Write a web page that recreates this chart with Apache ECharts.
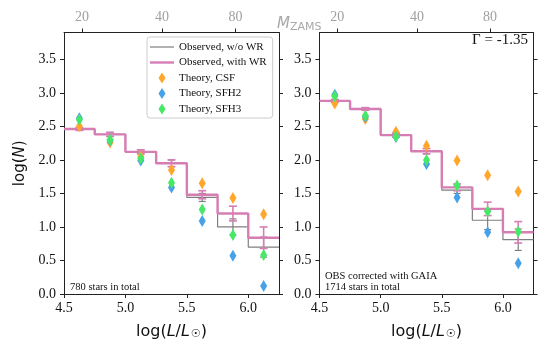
<!DOCTYPE html>
<html>
<head>
<meta charset="utf-8">
<script src="https://cdn.jsdelivr.net/npm/echarts@6/dist/echarts.min.js"></script>
<style>
  html, body { margin: 0; padding: 0; background: #fff; }
  #chart { width: 548px; height: 353px; }
</style>
</head>
<body>
<div id="chart"></div>
<script>
// bins in log(L/Lsun)
var edges = [4.5, 4.75, 5.0, 5.25, 5.5, 5.75, 6.0, 6.25];
var centers = [4.625, 4.875, 5.125, 5.375, 5.625, 5.875, 6.125];
var xTicks = [4.5, 5.0, 5.5, 6.0];
var yTicks = [0, 0.5, 1.0, 1.5, 2.0, 2.5, 3.0, 3.5];
// top axis: M_ZAMS labels and their log L position
var mLabels = ['20', '40', '80'];
var mPos = [4.646, 5.297, 5.895];

// left panel (780 stars)
var wrL = [2.46, 2.38, 2.12, 1.95, 1.48, 1.20, 0.84];
var wrErrL = [0.02, 0.03, 0.03, 0.05, 0.06, 0.11, 0.16];
var noWrL = [2.46, 2.38, 2.12, 1.95, 1.44, 1.00, 0.70];
var noWrErrL = [0.02, 0.03, 0.03, 0.05, 0.06, 0.12, 0.15];
var csfL = [2.50, 2.26, 2.05, 1.85, 1.65, 1.43, 1.19];
var sfh2L = [2.62, 2.29, 1.99, 1.59, 1.09, 0.57, 0.12];
var sfh3L = [2.60, 2.30, 2.02, 1.66, 1.26, 0.88, 0.58];

// right panel (GAIA corrected, 1714 stars)
var wrR = [2.88, 2.76, 2.37, 2.13, 1.59, 1.27, 0.92];
var wrErrR = [0.02, 0.02, 0.03, 0.04, 0.05, 0.10, 0.16];
var noWrR = [2.88, 2.76, 2.37, 2.13, 1.55, 1.10, 0.81];
var noWrErrR = [0.02, 0.02, 0.03, 0.04, 0.05, 0.14, 0.16];
var csfR = [2.84, 2.61, 2.42, 2.21, 1.99, 1.77, 1.53];
var sfh2R = [2.97, 2.64, 2.34, 1.94, 1.44, 0.92, 0.46];
var sfh3R = [2.95, 2.66, 2.35, 2.00, 1.62, 1.23, 0.93];

var PINK = '#d67db4', GRAY = '#7f7f7f';
var ORANGE = '#ffa62b', BLUE = '#45a2e8', GREEN = '#47e866';
var serif = 'Liberation Serif';
var sans = 'DejaVu Sans';

function stepData(vals) {
    return edges.map(function (e, i) {
        return [e, vals[Math.min(i, vals.length - 1)]];
    });
}
function pts(vals) {
    return centers.map(function (c, i) { return [c, vals[i]]; });
}
function errPts(vals, errs) {
    return centers.map(function (c, i) { return [c, vals[i], errs[i]]; });
}
function errRender(capW, color, lw) {
    return function (params, api) {
        var x = api.value(0), y = api.value(1), e = api.value(2);
        var t = api.coord([x, y + e]), b = api.coord([x, y - e]);
        var h = capW / 2;
        var st = { stroke: color, lineWidth: lw };
        return {
            type: 'group',
            children: [
                { type: 'line', shape: { x1: t[0], y1: t[1], x2: b[0], y2: b[1] }, style: st },
                { type: 'line', shape: { x1: t[0] - h, y1: t[1], x2: t[0] + h, y2: t[1] }, style: st },
                { type: 'line', shape: { x1: b[0] - h, y1: b[1], x2: b[0] + h, y2: b[1] }, style: st }
            ]
        };
    };
}

var axisLine = { show: true, onZero: false, lineStyle: { color: '#222', width: 1 } };
var nameRich = {
    it: { fontStyle: 'italic', fontFamily: sans, fontSize: 16, color: '#111' },
    sub: { fontFamily: sans, fontSize: 11, color: '#111', padding: [5, 0, 0, 1] }
};

function bottomAxis(grid) {
    return {
        type: 'value', gridIndex: grid, position: 'bottom', min: 4.5, max: 6.25,
        axisLine: axisLine, splitLine: { show: false },
        axisTick: { show: true, length: 4, customValues: xTicks, lineStyle: { color: '#222' } },
        axisLabel: {
            customValues: xTicks, margin: 7, color: '#111', fontFamily: serif, fontSize: 14,
            formatter: function (v) { return v.toFixed(1); }
        },
        name: 'log(' + '{it|L}/{it|L}{sub|☉})',
        nameLocation: 'middle', nameGap: 30,
        nameTextStyle: { fontFamily: sans, fontSize: 16, color: '#111', rich: nameRich }
    };
}
function topAxis(grid) {
    return {
        type: 'value', gridIndex: grid, position: 'top', min: 4.5, max: 6.25,
        axisLine: axisLine, splitLine: { show: false },
        axisTick: { show: true, length: 4, customValues: mPos, lineStyle: { color: '#222' } },
        axisLabel: {
            customValues: mPos, margin: 8, color: '#a0a0a0', fontFamily: serif, fontSize: 14,
            formatter: function (v) {
                var k = 0;
                for (var i = 0; i < mPos.length; i++) {
                    if (Math.abs(mPos[i] - v) < Math.abs(mPos[k] - v)) k = i;
                }
                return mLabels[k];
            }
        }
    };
}
function leftAxis(grid, withName) {
    var a = {
        type: 'value', gridIndex: grid, position: 'left', min: 0, max: 3.9,
        axisLine: axisLine, splitLine: { show: false },
        axisTick: { show: true, length: 4, customValues: yTicks, lineStyle: { color: '#222' } },
        axisLabel: {
            customValues: yTicks, margin: 8, color: '#111', fontFamily: serif, fontSize: 14,
            formatter: function (v) { return v.toFixed(1); }
        }
    };
    if (withName) {
        a.name = 'log({it|N})';
        a.nameLocation = 'middle';
        a.nameGap = 36;
        a.nameTextStyle = { fontFamily: sans, fontSize: 15, color: '#111',
            rich: { it: { fontStyle: 'italic', fontFamily: sans, fontSize: 15, color: '#111' } } };
    }
    return a;
}
function rightAxis(grid) {
    return {
        type: 'value', gridIndex: grid, position: 'right', min: 0, max: 3.9,
        axisLine: axisLine, splitLine: { show: false },
        axisTick: { show: true, length: 4, customValues: yTicks, lineStyle: { color: '#222' } },
        axisLabel: { show: false }
    };
}

function panelSeries(xi, yi, noWr, noWrErr, wr, wrErr, csf, sfh2, sfh3) {
    var dia = [7, 12];
    return [
        { name: 'Observed, w/o WR', type: 'line', xAxisIndex: xi, yAxisIndex: yi, step: 'end',
          data: stepData(noWr), symbol: 'none', lineStyle: { color: GRAY, width: 1.2 }, itemStyle: { color: GRAY }, z: 2 },
        { type: 'custom', xAxisIndex: xi, yAxisIndex: yi, data: errPts(noWr, noWrErr),
          renderItem: errRender(7, GRAY, 1.2), z: 3 },
        { name: 'Observed, with WR', type: 'line', xAxisIndex: xi, yAxisIndex: yi, step: 'end',
          data: stepData(wr), symbol: 'none', lineStyle: { color: PINK, width: 2.4 }, itemStyle: { color: PINK }, z: 4 },
        { type: 'custom', xAxisIndex: xi, yAxisIndex: yi, data: errPts(wr, wrErr),
          renderItem: errRender(8, PINK, 1.6), z: 5 },
        { name: 'Theory, CSF', type: 'scatter', xAxisIndex: xi, yAxisIndex: yi, data: pts(csf),
          symbol: 'diamond', symbolSize: dia, itemStyle: { color: ORANGE, opacity: 1 }, z: 6 },
        { name: 'Theory, SFH2', type: 'scatter', xAxisIndex: xi, yAxisIndex: yi, data: pts(sfh2),
          symbol: 'diamond', symbolSize: dia, itemStyle: { color: BLUE, opacity: 1 }, z: 7 },
        { name: 'Theory, SFH3', type: 'scatter', xAxisIndex: xi, yAxisIndex: yi, data: pts(sfh3),
          symbol: 'diamond', symbolSize: dia, itemStyle: { color: GREEN, opacity: 1 }, z: 8 }
    ];
}

// legend icons: the leading moves pin the bounding box to the full 24x14 item box
var box = 'M0,0M24,14';
var thinLine = 'path://' + box + 'M0,6.4H24V7.6H0Z';
var thickLine = 'path://' + box + 'M0,5.8H24V8.2H0Z';
var diamondIcon = 'path://' + box + 'M12,1.5L15.5,7L12,12.5L8.5,7Z';

var chart = echarts.init(document.getElementById('chart'), null, { renderer: 'canvas' });
chart.setOption({
    animation: false,
    backgroundColor: '#fff',
    grid: [
        { left: 64, top: 32.5, width: 215, height: 261.5 },
        { left: 319.5, top: 32.5, width: 214, height: 261.5 }
    ],
    xAxis: [bottomAxis(0), topAxis(0), bottomAxis(1), topAxis(1)],
    yAxis: [leftAxis(0, true), rightAxis(0), leftAxis(1, false), rightAxis(1)],
    legend: {
        orient: 'vertical', left: 147, top: 37,
        padding: [3, 6, 2, 3], itemGap: 1.5, itemWidth: 24, itemHeight: 14,
        backgroundColor: '#fff', borderColor: '#cccccc', borderWidth: 1, borderRadius: 3,
        textStyle: { fontFamily: serif, fontSize: 11, color: '#111' },
        data: [
            { name: 'Observed, w/o WR', icon: thinLine },
            { name: 'Observed, with WR', icon: thickLine },
            { name: 'Theory, CSF', icon: diamondIcon },
            { name: 'Theory, SFH2', icon: diamondIcon },
            { name: 'Theory, SFH3', icon: diamondIcon }
        ]
    },
    graphic: [
        { type: 'text', left: 70, top: 282,
          style: { text: '780 stars in total', font: '10.5px "Liberation Serif"', fill: '#111' } },
        { type: 'text', left: 325, top: 270,
          style: { text: 'OBS corrected with GAIA\n1714 stars in total', font: '10.5px "Liberation Serif"', fill: '#111', lineHeight: 11.5 } },
        { type: 'text', right: 20, top: 33,
          style: { text: 'Γ = -1.35', font: '15px "Liberation Serif"', fill: '#111' } },
        { type: 'text', left: 277, top: 17,
          style: {
              text: '{m|M}{s|ZAMS}',
              rich: {
                  m: { fontFamily: sans, fontStyle: 'italic', fontSize: 15, fill: '#a8a8a8', color: '#a8a8a8' },
                  s: { fontFamily: sans, fontSize: 11, fill: '#a8a8a8', color: '#a8a8a8', padding: [5, 0, 0, 0] }
              }
          } }
    ],
    series: [].concat(
        panelSeries(0, 0, noWrL, noWrErrL, wrL, wrErrL, csfL, sfh2L, sfh3L),
        panelSeries(2, 2, noWrR, noWrErrR, wrR, wrErrR, csfR, sfh2R, sfh3R)
    )
});
</script>
</body>
</html>
